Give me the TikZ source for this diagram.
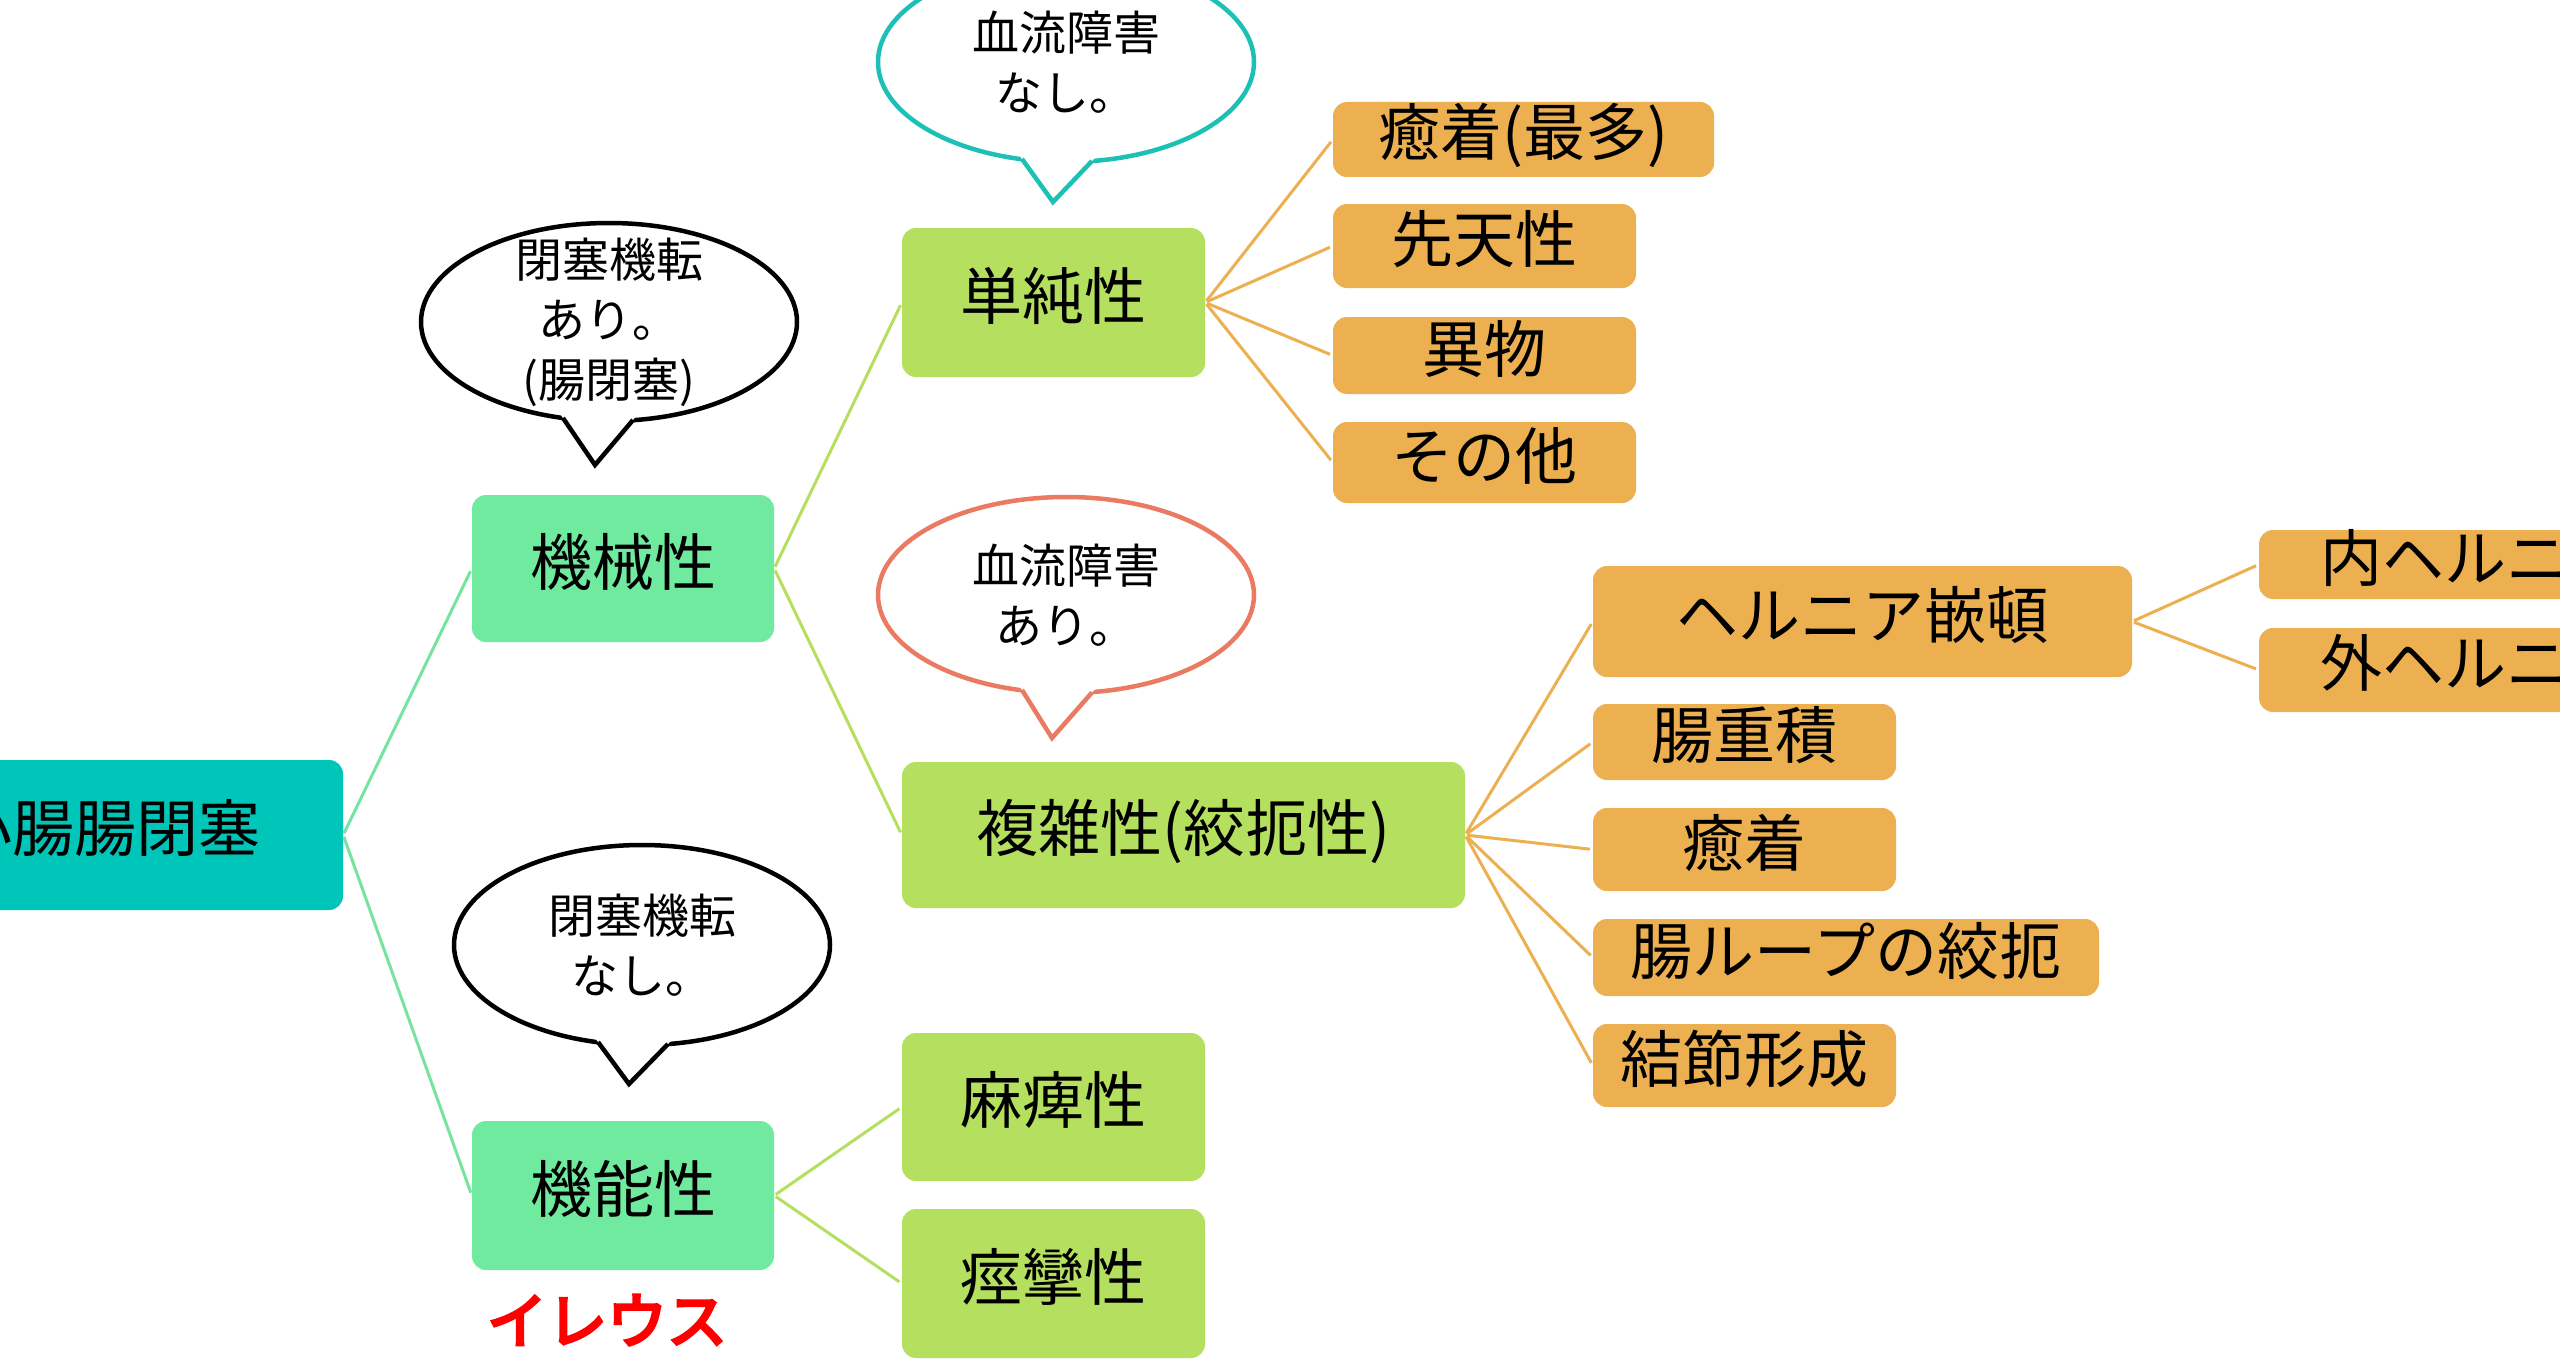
\documentclass[tikz,border=0pt]{standalone}
\usepackage{fontspec}
\setmainfont{Noto Sans CJK JP}
\newfontfamily\jpbold[FakeBold=5]{Noto Sans CJK JP}
\usetikzlibrary{calc}
\definecolor{cRoot}{HTML}{00C5B9}
\definecolor{cA}{HTML}{70EA9E}
\definecolor{cB}{HTML}{B5DF5E}
\definecolor{cO}{HTML}{ECB051}
\definecolor{wA}{HTML}{77E3A0}
\definecolor{bTeal}{HTML}{1DC0B5}
\definecolor{bSalmon}{HTML}{EB7A63}
\definecolor{cRed}{HTML}{FF0000}
\tikzset{
  box/.style={rounded corners=14pt, inner sep=0pt, text=black, font=\fontsize{62}{70}\selectfont, text height=50pt, text depth=17pt},
  rootbox/.style={box, fill=cRoot},
  lvlA/.style={box, fill=cA},
  lvlB/.style={box, fill=cB},
  leaf/.style={box, fill=cO},
  wire/.style={line width=3pt, shorten <=2pt, shorten >=3pt},
  bubtext/.style={align=center, inner sep=0pt, font=\fontsize{47}{60}\selectfont},
  bub/.style={fill=white, line width=4.5pt, line join=miter},
}
\begin{document}
\begin{tikzpicture}[x=1pt,y=-1pt]
\clip (0,0) rectangle (2560,1362);
\fill[white] (0,0) rectangle (2560,1362);

% ---------- boxes ----------
\node[rootbox, minimum width=474, minimum height=150] (root) at (106,835) {小腸腸閉塞};

\node[lvlA, minimum width=302, minimum height=147] (mech) at (623,568.5) {機械性};
\node[lvlA, minimum width=302, minimum height=149] (func) at (623,1195.5) {機能性};

\node[lvlB, minimum width=303, minimum height=149] (simple) at (1053.5,302.5) {単純性};
\node[lvlB, minimum width=563, minimum height=146] (complex) at (1183.5,835) {複雑性(絞扼性)};
\node[lvlB, minimum width=303, minimum height=148] (paral) at (1053.5,1107) {麻痺性};
\node[lvlB, minimum width=303, minimum height=149] (spasm) at (1053.5,1283.5) {痙攣性};

\node[leaf, minimum width=381, minimum height=75] (s1) at (1523.5,139.5) {癒着(最多)};
\node[leaf, minimum width=303, minimum height=84] (s2) at (1484.5,246) {先天性};
\node[leaf, minimum width=303, minimum height=77] (s3) at (1484.5,355.5) {異物};
\node[leaf, minimum width=303, minimum height=81] (s4) at (1484.5,462.5) {その他};

\node[leaf, minimum width=539, minimum height=111] (c1) at (1862.5,621.5) {ヘルニア嵌頓};
\node[leaf, minimum width=303, minimum height=76] (c2) at (1744.5,742) {腸重積};
\node[leaf, minimum width=303, minimum height=83] (c3) at (1744.5,849.5) {癒着};
\node[leaf, minimum width=506, minimum height=77] (c4) at (1846,957.5) {腸ループの絞扼};
\node[leaf, minimum width=303, minimum height=83] (c5) at (1744.5,1065.5) {結節形成};

\node[leaf, minimum width=432, minimum height=69] (h1) at (2475,564.5) {内ヘルニア};
\node[leaf, minimum width=432, minimum height=84] (h2) at (2475,670) {外ヘルニア};

\node[text=cRed, inner sep=0pt, font=\jpbold\fontsize{60}{66}\selectfont] (ileus) at (607,1320) {イレウス};

% ---------- connectors ----------
\draw[wire, wA] (root.east) -- (mech.west);
\draw[wire, wA] (root.east) -- (func.west);
\draw[wire, cB] (mech.east) -- (simple.west);
\draw[wire, cB] (mech.east) -- (complex.west);
\draw[wire, cB] (func.east) -- (paral.west);
\draw[wire, cB] (func.east) -- (spasm.west);
\foreach \t in {s1,s2,s3,s4} \draw[wire, cO] (simple.east) -- (\t.west);
\foreach \t in {c1,c2,c3,c4,c5} \draw[wire, cO] (complex.east) -- (\t.west);
\foreach \t in {h1,h2} \draw[wire, cO] (c1.east) -- (\t.west);

% ---------- speech bubbles ----------
% bubble 1: 血流障害なし。
\coordinate (b1c) at (1066,62);
\coordinate (b1l) at (1022,159);
\coordinate (b1p) at (1053,202);
\coordinate (b1r) at (1092,161);
\draw[bub, draw=bTeal] (b1c) ellipse [x radius=188, y radius=100];
\fill[white] ($(b1p)!1.4!(b1l)$) -- (b1p) -- ($(b1p)!1.4!(b1r)$) -- cycle;
\draw[bub, draw=bTeal, fill=none] (b1l) -- (b1p) -- (b1r);
\node[bubtext] (b1) at (b1c) {血流障害\\なし。};

% bubble 2: 閉塞機転あり。(腸閉塞)
\coordinate (b2c) at (609,322);
\coordinate (b2l) at (563,418);
\coordinate (b2p) at (595,465);
\coordinate (b2r) at (633,420);
\draw[bub, draw=black] (b2c) ellipse [x radius=188, y radius=99];
\fill[white] ($(b2p)!1.4!(b2l)$) -- (b2p) -- ($(b2p)!1.4!(b2r)$) -- cycle;
\draw[bub, draw=black, fill=none] (b2l) -- (b2p) -- (b2r);
\node[bubtext] (b2) at (b2c) {閉塞機転\\あり。\\(腸閉塞)};

% bubble 3: 血流障害あり。
\coordinate (b3c) at (1066,595);
\coordinate (b3l) at (1022,690);
\coordinate (b3p) at (1052,738);
\coordinate (b3r) at (1092,692.5);
\draw[bub, draw=bSalmon] (b3c) ellipse [x radius=188, y radius=98];
\fill[white] ($(b3p)!1.4!(b3l)$) -- (b3p) -- ($(b3p)!1.4!(b3r)$) -- cycle;
\draw[bub, draw=bSalmon, fill=none] (b3l) -- (b3p) -- (b3r);
\node[bubtext] (b3) at (b3c) {血流障害\\あり。};

% bubble 4: 閉塞機転なし。
\coordinate (b4c) at (642,945);
\coordinate (b4l) at (598,1042);
\coordinate (b4p) at (629,1084);
\coordinate (b4r) at (668,1044);
\draw[bub, draw=black] (b4c) ellipse [x radius=188, y radius=100];
\fill[white] ($(b4p)!1.4!(b4l)$) -- (b4p) -- ($(b4p)!1.4!(b4r)$) -- cycle;
\draw[bub, draw=black, fill=none] (b4l) -- (b4p) -- (b4r);
\node[bubtext] (b4) at (b4c) {閉塞機転\\なし。};
\end{tikzpicture}
\end{document}
